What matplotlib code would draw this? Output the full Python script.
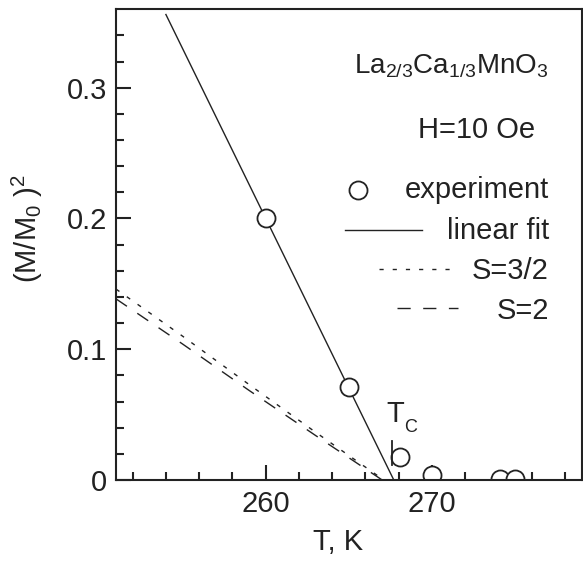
import matplotlib
matplotlib.use("Agg")
import matplotlib.pyplot as plt
from matplotlib.lines import Line2D

plt.rcParams['font.family'] = ['Liberation Sans', 'DejaVu Sans']
plt.rcParams['mathtext.default'] = 'regular'
plt.rcParams['font.size'] = 21

# experiment points
exp_T = [260.0, 265.0, 268.1, 270.0, 274.1, 275.0]
exp_y = [0.2005, 0.0713, 0.0178, 0.0038, 0.0004, 0.0004]

# linear fit endpoints
fit_T = [254.0, 267.7]
fit_y = [0.356, 0.0]

# mean-field curves
s32_T = [251.0, 255.0, 259.0, 263.0, 267.1]
s32_y = [0.1460, 0.1100, 0.0730, 0.0365, 0.0]
s2_T = [251.0, 255.0, 259.0, 263.0, 267.0]
s2_y = [0.1385, 0.1040, 0.0685, 0.0340, 0.0]

tc = 267.6
ink = '#222222'

fig = plt.figure(figsize=(5.83, 5.66), dpi=100)
ax = fig.add_axes([0.199, 0.152, 0.7988, 0.8316])

ax.plot(fit_T, fit_y, color=ink, lw=1.0)
ax.plot(s32_T, s32_y, color=ink, lw=1.0, dashes=(3.0, 6.5))
ax.plot(s2_T, s2_y, color=ink, lw=1.0, dashes=(9.5, 9.0))
ax.plot(exp_T, exp_y, 'o', ms=13, mfc='white', mec=ink, mew=1.3, ls='none')

# Tc marker
ax.plot([tc, tc], [0.0115, 0.030], color=ink, lw=1.3)
ax.text(267.25, 0.0446, 'T', ha='left', va='baseline', fontsize=21, color=ink)
ax.text(268.35, 0.0369, 'C', ha='left', va='baseline', fontsize=13, color=ink)

ax.set_xlim(251, 279)
ax.set_ylim(0, 0.36)
ax.set_xticks([260, 270])
ax.set_xticks(range(252, 279, 2), minor=True)
ax.set_yticks([0, 0.1, 0.2, 0.3])
ax.set_yticklabels(['0', '0.1', '0.2', '0.3'])
ax.set_yticks([0.02 * i for i in range(1, 18)], minor=True)

ax.tick_params(which='both', direction='in', top=False, right=False,
               width=1.5, color=ink, labelcolor=ink)
ax.tick_params(which='major', length=11)
ax.tick_params(which='minor', length=5.8)
ax.tick_params(axis='x', which='major', pad=7.5)
ax.tick_params(axis='y', which='major', pad=6.5)
for sp in ax.spines.values():
    sp.set_linewidth(1.5)
    sp.set_color(ink)

ax.set_xlabel('T, K', color=ink)
ax.xaxis.set_label_coords(0.477, -0.103)
ax.set_ylabel('(M/M$_0$ )$^2$', color=ink)
ax.yaxis.set_label_coords(-0.152, 0.535)

tr = ax.transAxes
ax.text(0.9286, 0.864, 'La$_{2/3}$Ca$_{1/3}$MnO$_3$', transform=tr,
        ha='right', va='baseline', color=ink, fontsize=20)
ax.text(0.7743, 0.7259, 'H=10 Oe', transform=tr, ha='center',
        va='baseline', color=ink)

# hand-placed legend
ax.add_line(Line2D([0.5197], [0.616], marker='o', ms=13, mfc='white',
                   mec=ink, mew=1.3, ls='none', transform=tr))
ax.add_line(Line2D([0.4917, 0.6564], [0.531, 0.531], color=ink,
                   lw=1.0, transform=tr))
ax.add_line(Line2D([0.5647, 0.728], [0.4483, 0.4483], color=ink,
                   lw=1.0, dashes=(3.0, 6.5), transform=tr))
ax.add_line(Line2D([0.6028, 0.7344], [0.3654, 0.3654], color=ink,
                   lw=1.0, dashes=(9.5, 9.0), transform=tr))
for label, y in [('experiment', 0.5985), ('linear fit', 0.5113),
                 ('S=3/2', 0.4264), ('S=2', 0.3414)]:
    ax.text(0.9298, y, label, transform=tr, ha='right', va='baseline',
            color=ink)

fig.savefig('out.png', dpi=100)
